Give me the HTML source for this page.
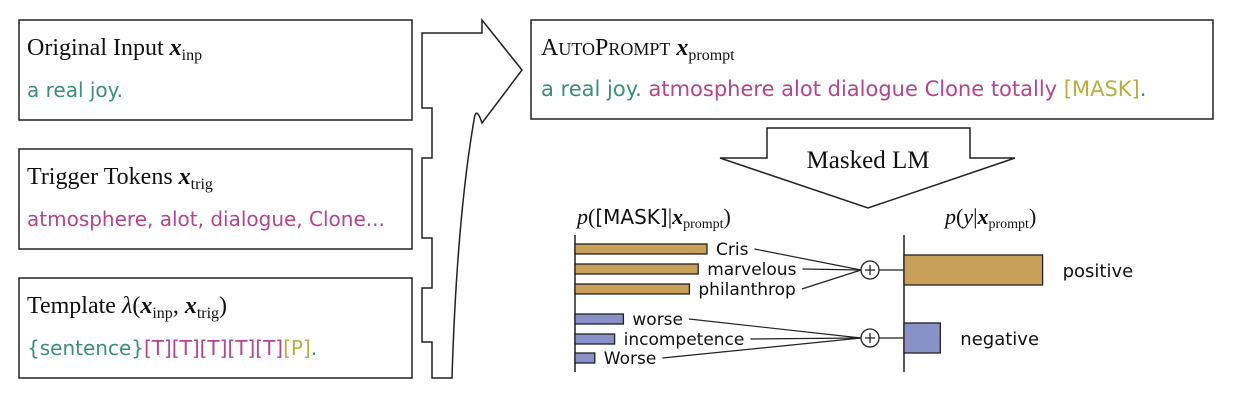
<!DOCTYPE html>
<html><head><meta charset="utf-8"><style>
html,body{margin:0;padding:0;background:#fff}
svg{display:block}
.serif{font-family:"Liberation Serif","DejaVu Serif",serif}
.sans{font-family:"DejaVu Sans","Liberation Sans",sans-serif}
</style></head><body>
<svg width="1234" height="404" viewBox="0 0 1234 404" xmlns="http://www.w3.org/2000/svg">
<g fill="none" stroke="#222" stroke-width="1.5">
<rect x="19" y="20" width="393" height="100"/>
<rect x="19" y="149" width="393" height="100"/>
<rect x="19" y="278" width="393" height="100"/>
<rect x="531" y="20" width="682" height="99"/>
<path d="M422,33 L482,33 L482,20 L522,70 L482,123 Q476,105 474,120 C462,190 455,280 452,378 L432,378 L432,342 L422,342 L422,288 L432,288 L432,238 L422,238 L422,158 L432,158 L432,108 L422,108 Z"/>
<path d="M767,128 L970,128 L970,158 L1015,158 L868,208 L720,158 L767,158 Z"/>
</g>
<g class="serif" font-size="24" fill="#111">
<text x="27" y="55">Original Input <tspan font-weight="bold" font-style="italic">x</tspan><tspan font-size="16" dy="5">inp</tspan></text>
<text x="27" y="184">Trigger Tokens <tspan font-weight="bold" font-style="italic">x</tspan><tspan font-size="16" dy="5">trig</tspan></text>
<text x="27" y="313">Template  <tspan font-style="italic">λ</tspan>(<tspan font-weight="bold" font-style="italic">x</tspan><tspan font-size="16" dy="5">inp</tspan><tspan dy="-5">, </tspan><tspan font-weight="bold" font-style="italic">x</tspan><tspan font-size="16" dy="5">trig</tspan><tspan dy="-5">)</tspan></text>
<text x="541" y="55">A<tspan font-size="18">UTO</tspan>P<tspan font-size="18">ROMPT</tspan>   <tspan font-weight="bold" font-style="italic">x</tspan><tspan font-size="16" dy="5">prompt</tspan></text>
<text x="868" y="168" text-anchor="middle" font-size="25">Masked LM</text>
</g>
<g class="sans" font-size="20">
<text x="27" y="97" fill="#3a8f7c">a real joy.</text>
<text x="27" y="226" fill="#b6448c">atmosphere, alot, dialogue, Clone...</text>
<text x="27" y="355"><tspan fill="#3a8f7c">{sentence}</tspan><tspan fill="#b6448c">[T][T][T][T][T]</tspan><tspan fill="#b5b040">[P]</tspan><tspan fill="#3a8f7c">.</tspan></text>
<text x="541" y="96" font-size="21"><tspan fill="#3a8f7c">a real joy. </tspan><tspan fill="#b6448c">atmosphere alot dialogue Clone totally </tspan><tspan fill="#b5b040">[MASK]</tspan><tspan fill="#3a8f7c">.</tspan></text>
</g>
<g class="serif" font-size="22" fill="#111">
<text x="577" y="224"><tspan font-style="italic">p</tspan>(<tspan class="sans" font-size="20">[MASK]</tspan>|<tspan font-weight="bold" font-style="italic">x</tspan><tspan font-size="14" dy="4">prompt</tspan><tspan dy="-4">)</tspan></text>
<text x="945" y="224"><tspan font-style="italic">p</tspan>(<tspan font-style="italic">y</tspan>|<tspan font-weight="bold" font-style="italic">x</tspan><tspan font-size="14" dy="4">prompt</tspan><tspan dy="-4">)</tspan></text>
</g>
<g id="chart"></g>
</svg>
<script>
const words=["Cris","marvelous","philanthrop","worse","incompetence","Worse"];
const wordProbs=[0.30,0.28,0.26,0.11,0.09,0.045];
const wordClass=[0,0,0,1,1,1];
const classes=["positive","negative"];
const classProbs=[0.84,0.22];
const NS="http://www.w3.org/2000/svg";
const g=document.getElementById('chart');
const cols=["#c9a05a","#8891c8"];
function mk(t,a){const e=document.createElementNS(NS,t);for(const k in a)e.setAttribute(k,a[k]);g.appendChild(e);return e;}
const x0=575, xs=v=>v*440;
const wy=i=>244+i*20+(i>=3?10:0)-(i>=5?1:0);
const cx=870, cy=[270,338];
const x1=904, xs2=v=>v*165;
const cyBar=[255,323];
let ax=mk('line',{x1:x0,y1:235,x2:x0,y2:372,stroke:'#222','stroke-width':1.5});

ax=mk('line',{x1:x1,y1:235,x2:x1,y2:372,stroke:'#222','stroke-width':1.5});

words.forEach((w,i)=>{
  const y=wy(i), end=x0+xs(wordProbs[i]);
  const r=mk('rect',{x:x0,y:y,width:xs(wordProbs[i]),height:10,fill:cols[wordClass[i]],stroke:'#222','stroke-width':1.3});
  
  
  const t=mk('text',{x:end+9,y:y+11,'font-size':17,'font-family':'"DejaVu Sans","Liberation Sans",sans-serif',fill:'#111'});
  t.textContent=w;
  
  
  const tw=t.getComputedTextLength();
  const l=mk('line',{x1:end+15+tw,y1:y+5,x2:cx-9,y2:cy[wordClass[i]],stroke:'#222','stroke-width':1.2});
  
  
});
classes.forEach((c,j)=>{
  const circ=mk('circle',{cx:cx,cy:cy[j],r:9,fill:'#fff',stroke:'#222','stroke-width':1.3});
  
  
  const p=mk('path',{d:`M${cx-5},${cy[j]} h10 M${cx},${cy[j]-5} v10`,stroke:'#222','stroke-width':1.3});
  
  
  const l=mk('line',{x1:cx+9,y1:cy[j],x2:x1,y2:cy[j],stroke:'#222','stroke-width':1.2});
  
  
  const w=xs2(classProbs[j]);
  const r=mk('rect',{x:x1,y:cyBar[j],width:w,height:30,fill:cols[j],stroke:'#222','stroke-width':1.3});
  
  
  const t=mk('text',{x:x1+w+20,y:cyBar[j]+22,'font-size':18,'font-family':'"DejaVu Sans","Liberation Sans",sans-serif',fill:'#111'});
  t.textContent=c;
  
  
});
</script>
</body></html>
